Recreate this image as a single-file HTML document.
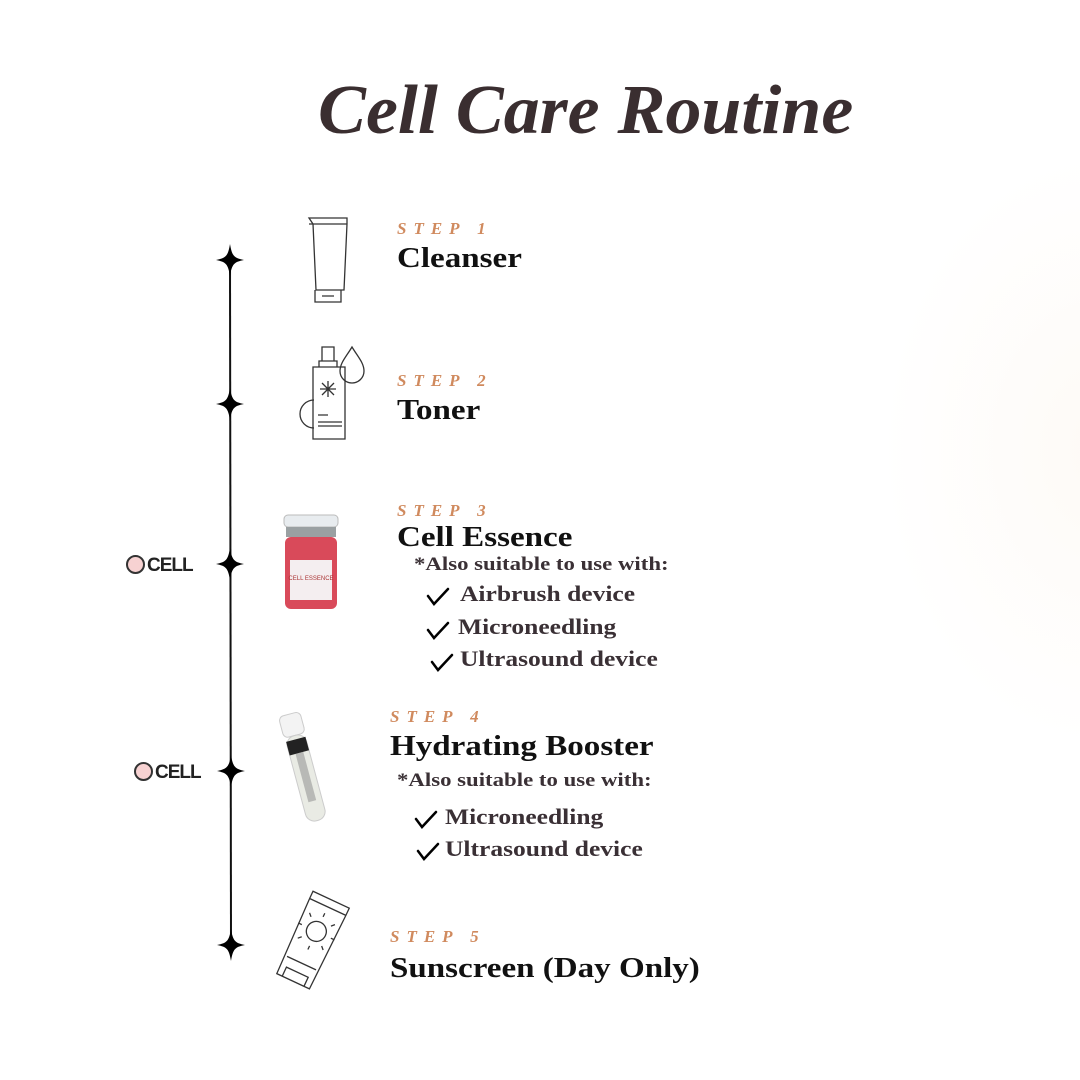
<!DOCTYPE html>
<html><head><meta charset="utf-8"><style>
body{margin:0;width:1080px;height:1080px;background:#fff;position:relative;overflow:hidden;font-family:"Liberation Serif",serif}
.t{position:absolute;line-height:1;white-space:nowrap;transform-origin:0 0}
.step{font-size:17px;font-style:italic;font-weight:bold;color:#d08a5e;letter-spacing:7px}
.h{font-size:29px;font-weight:bold;color:#111;transform:scaleX(1.14)}
.s{font-size:19px;font-weight:bold;color:#3a3035;transform:scaleX(1.2)}
.i{font-size:22px;font-weight:bold;color:#3a3035;transform:scaleX(1.16)}
.logo{position:absolute;font-family:"Liberation Sans",sans-serif;font-weight:bold;font-size:19px;color:#222;letter-spacing:-1px}
.logo span{display:inline-block;width:15px;height:15px;border-radius:50%;background:#f7d2d2;border:2px solid #333;vertical-align:-3px;margin-right:2px}
</style></head><body>
<div style="position:absolute;right:-250px;top:150px;width:450px;height:600px;border-radius:50%;background:radial-gradient(#fefaf6,#fff 70%)"></div>
<div class="t" style="left:318px;top:76px;font-size:70px;font-style:italic;font-weight:bold;color:#3a2e30;transform:scaleX(1.027)">Cell Care Routine</div>

<svg width="1080" height="1080" style="position:absolute;left:0;top:0">
<defs><path id="st" d="M0,-16 C2,-4 4,-2 14,0 C4,2 2,4 0,16 C-2,4 -4,2 -14,0 C-4,-2 -2,-4 0,-16Z"/></defs>
<line x1="230" y1="260" x2="231" y2="945" stroke="#111" stroke-width="2"/>
<use href="#st" x="230" y="260"/><use href="#st" x="230" y="404"/><use href="#st" x="230" y="564"/><use href="#st" x="231" y="771"/><use href="#st" x="231" y="945"/>
<g fill="none" stroke="#333" stroke-width="1.3">
<path d="M309,218 h38 v6 l-3,66 h-28 l-3,-66z M309,224 h38 M315,290 v12 h26 v-12 M322,296 h12"/>
<path d="M322,347 h12 v14 h-12z M319,361 h18 v6 h-18z M313,367 h32 v72 h-32z M318,415 h10 M318,422 h24 M318,426 h24"/>
<path d="M314,400 a14,14 0 1 0 0,28"/>
<path d="M352,347 c-6,10 -12,16 -12,24 a12,12 0 0 0 24,0 c0,-8 -6,-14 -12,-24z"/>
<path d="M328,381 v16 M320,389 h16 M322,383 l12,12 M334,383 l-12,12"/>
<g transform="rotate(25 310 945)"><path d="M290,895 h40 v8 l-2,82 h-36 l-2,-82z M290,903 h40 M294,965 h32 M298,975 h24 v10 h-24z"/>
<circle cx="310" cy="930" r="10"/><path d="M310,914 v-4 M310,946 v4 M294,930 h-4 M326,930 h4 M299,919 l-3,-3 M321,941 l3,3 M321,919 l3,-3 M299,941 l-3,3"/></g>
</g>
<rect x="284" y="515" width="54" height="12" rx="4" fill="#e8ecef" stroke="#bbb"/>
<rect x="286" y="527" width="50" height="10" fill="#9aa0a2"/>
<rect x="285" y="537" width="52" height="72" rx="6" fill="#d94a5a"/>
<rect x="290" y="560" width="42" height="40" fill="#f4eef0"/>
<text x="311" y="580" font-size="6" font-family="Liberation Sans" text-anchor="middle" fill="#a33">CELL ESSENCE</text>
<g transform="rotate(-15 305 770)">
<rect x="293" y="712" width="22" height="22" rx="5" fill="#f3f3f3" stroke="#ccc"/>
<rect x="294" y="734" width="20" height="88" rx="9" fill="#e9ebe4" stroke="#ccc"/>
<rect x="294" y="738" width="20" height="14" fill="#222"/>
<rect x="300" y="752" width="8" height="50" fill="#888" opacity=".5"/>
</g>
<path d="M428,596 l6,8 l14,-15 M428,630 l6,8 l14,-15 M432,662 l6,8 l14,-15 M416,819 l6,8 l14,-15 M418,851 l6,8 l14,-15" fill="none" stroke="#000" stroke-width="2.5" stroke-linecap="round"/>
</svg>

<div class="logo" style="left:126px;top:555px"><span></span>CELL</div>
<div class="logo" style="left:134px;top:762px"><span></span>CELL</div>

<div class="t step" style="left:397px;top:220px">STEP 1</div>
<div class="t h" style="left:397px;top:244px">Cleanser</div>
<div class="t step" style="left:397px;top:372px">STEP 2</div>
<div class="t h" style="left:397px;top:396px">Toner</div>
<div class="t step" style="left:397px;top:502px">STEP 3</div>
<div class="t h" style="left:397px;top:523px">Cell Essence</div>
<div class="t s" style="left:414px;top:555px">*Also suitable to use with:</div>
<div class="t i" style="left:460px;top:583px">Airbrush device</div>
<div class="t i" style="left:458px;top:616px">Microneedling</div>
<div class="t i" style="left:460px;top:648px">Ultrasound device</div>
<div class="t step" style="left:390px;top:708px">STEP 4</div>
<div class="t h" style="left:390px;top:732px">Hydrating Booster</div>
<div class="t s" style="left:397px;top:771px">*Also suitable to use with:</div>
<div class="t i" style="left:445px;top:806px">Microneedling</div>
<div class="t i" style="left:445px;top:838px">Ultrasound device</div>
<div class="t step" style="left:390px;top:928px">STEP 5</div>
<div class="t h" style="left:390px;top:954px">Sunscreen (Day Only)</div>
</body></html>
